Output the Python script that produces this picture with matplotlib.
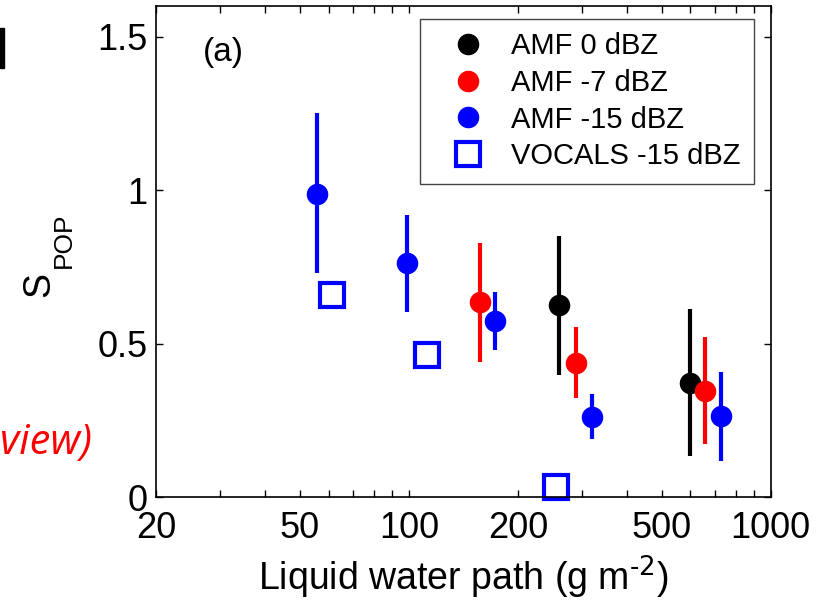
import matplotlib
matplotlib.use("Agg")
from matplotlib import pyplot as plt
from matplotlib.patches import Rectangle
from matplotlib.ticker import FixedLocator, NullFormatter

plt.rcParams['font.family'] = ['Liberation Sans', 'DejaVu Sans']
plt.rcParams['mathtext.default'] = 'regular'

# AMF 0 dBZ
amf0_lwp = [260, 597]
amf0_s = [0.626, 0.373]
amf0_lo = [0.398, 0.134]
amf0_hi = [0.851, 0.612]

# AMF -7 dBZ
amf7_lwp = [157, 290, 660]
amf7_s = [0.634, 0.436, 0.347]
amf7_lo = [0.439, 0.322, 0.173]
amf7_hi = [0.829, 0.555, 0.521]

# AMF -15 dBZ
amf15_lwp = [55.6, 98.6, 172.8, 320, 728]
amf15_s = [0.987, 0.762, 0.572, 0.262, 0.264]
amf15_lo = [0.729, 0.602, 0.479, 0.188, 0.118]
amf15_hi = [1.251, 0.919, 0.669, 0.336, 0.409]

# VOCALS -15 dBZ
vocals_lwp = [61.4, 112, 255]
vocals_s = [0.659, 0.463, 0.034]

xticks = [20, 50, 100, 200, 500, 1000]
yticks = [0, 0.5, 1, 1.5]
yticklabels = ['0', '0.5', '1', '1.5']

fig = plt.figure(figsize=(8.2, 6.05), dpi=100)
ax = fig.add_axes([0.190, 0.1785, 0.750, 0.8115])

series = [
    (amf0_lwp, amf0_s, amf0_lo, amf0_hi, 'black', 'AMF 0 dBZ'),
    (amf7_lwp, amf7_s, amf7_lo, amf7_hi, 'red', 'AMF -7 dBZ'),
    (amf15_lwp, amf15_s, amf15_lo, amf15_hi, 'blue', 'AMF -15 dBZ'),
]
for lwp, s, lo, hi, col, lab in series:
    err = [[v - l for v, l in zip(s, lo)], [h - v for v, h in zip(s, hi)]]
    ax.errorbar(lwp, s, yerr=err, fmt='none', ecolor=col, elinewidth=3,
                capsize=0)
    ax.plot(lwp, s, 'o', color=col, markersize=14.5, label=lab)

ax.plot(vocals_lwp, vocals_s, 's', markerfacecolor='none',
        markeredgecolor='blue', markeredgewidth=3, markersize=17,
        clip_on=False, label='VOCALS -15 dBZ')

ax.set_xscale('log')
ax.set_xlim(20, 1000)
ax.set_ylim(0, 1.6)
ax.set_xticks(xticks)
ax.set_xticklabels([str(t) for t in xticks])
minor = [v * d for d in (10, 100) for v in range(2, 10)
         if 20 < v * d < 1000 and v * d not in xticks]
ax.xaxis.set_minor_locator(FixedLocator(minor))
ax.xaxis.set_minor_formatter(NullFormatter())
ax.set_yticks(yticks)
ax.set_yticklabels(yticklabels)

ax.tick_params(which='both', direction='in', top=True, right=True,
               length=5, width=1)
ax.tick_params(axis='x', which='major', labelsize=26, pad=10)
ax.tick_params(axis='y', labelsize=26, pad=6)
for sp in ax.spines.values():
    sp.set_linewidth(1.2)

ax.set_xlabel(r'Liquid water path (g m$^{\text{-2}}$)', fontsize=27,
              labelpad=6)

# y label: S with a large, low-set POP subscript
fig.text(39 / 820, 1 - 284.5 / 605, 'S', fontsize=27, rotation=90,
         ha='center', va='center')
fig.text(64 / 820, 1 - 240.5 / 605, 'POP', fontsize=19, rotation=90,
         ha='center', va='center')

ax.text(0.076, 0.906, '(a)', transform=ax.transAxes, fontsize=24,
        va='center', ha='left')

leg = ax.legend(loc='upper right', bbox_to_anchor=(0.972, 0.9735),
                borderaxespad=0, fontsize=21, fancybox=False,
                edgecolor='#444444', framealpha=1, handlelength=2.4,
                handletextpad=0.27, labelspacing=0.3, borderpad=0.45,
                numpoints=1)
leg.get_frame().set_linewidth(1)

# fragments of the surrounding slide
fig.text(92 / 820, 1 - 443 / 605, 'view)', color='red', fontsize=30,
         style='italic', family=['Open Sans', 'DejaVu Sans'],
         ha='right', va='center')
fig.patches.append(Rectangle((0, 1 - 68 / 605), 3.5 / 820, 40 / 605,
                             transform=fig.transFigure, color='black'))

fig.savefig('out.png', dpi=100)
